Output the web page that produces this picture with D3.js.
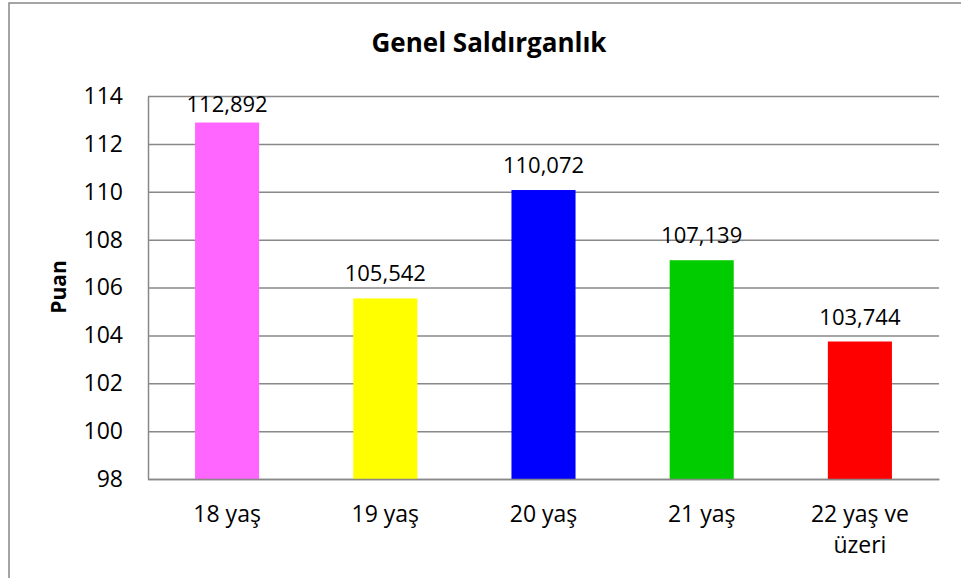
<!DOCTYPE html>
<html>
<head>
<meta charset="utf-8">
<script src="https://cdn.jsdelivr.net/npm/d3@7"></script>
<style>
  body { margin: 0; background: #fff; }
  text { font-family: "Open Sans", "Noto Sans", sans-serif; fill: #000; }
</style>
</head>
<body>
<svg id="chart" width="961" height="578"></svg>
<script>
var categories = ["18 yaş", "19 yaş", "20 yaş", "21 yaş", "22 yaş ve üzeri"],
    values = [112.892, 105.542, 110.072, 107.139, 103.744],
    colours = ["#ff66ff", "#ffff00", "#0000ff", "#00cc00", "#ff0000"],
    yTicks = [98, 100, 102, 104, 106, 108, 110, 112, 114];

var svg = d3.select("#chart"),
    plotLeft = 148, plotRight = 939, plotTop = 96, plotBottom = 479,
    fmt = function(v) { return d3.format(".3f")(v).replace(".", ","); };

//Outer frame (runs off the picture on the right and bottom)
svg.append("rect")
  .attr("x", 9).attr("y", 3)
  .attr("width", 980).attr("height", 600)
  .attr("fill", "none")
  .attr("stroke", "#888")
  .attr("stroke-width", 1.5);

//Scales
var x = d3.scaleBand()
          .domain(categories)
          .range([plotLeft, plotRight]);
var y = d3.scaleLinear()
          .domain([98, 114])
          .range([plotBottom, plotTop]);

//Y axis with gridlines
var yAxis = svg.append("g")
  .attr("transform", "translate(" + plotLeft + ",0)")
  .call(d3.axisLeft(y).tickValues(yTicks).tickSize(-(plotRight - plotLeft)).tickSizeOuter(0).tickPadding(25));
yAxis.select(".domain").attr("stroke", "#888").attr("stroke-width", 1.5);
yAxis.selectAll(".tick line").attr("stroke", "#888").attr("stroke-width", 1.5);
yAxis.selectAll(".tick text")
  .style("font-size", "23px")
  .style("font-family", "'Open Sans', sans-serif")
  .attr("fill", "#000");

//Bars
var barWidth = x.bandwidth() * 0.405;
svg.selectAll("rect.bar")
   .data(values)
   .enter()
   .append("rect")
   .attr("class", "bar")
   .attr("x", function(d, i) { return x(categories[i]) + x.bandwidth() / 2 - barWidth / 2; })
   .attr("y", function(d) { return y(d); })
   .attr("width", barWidth)
   .attr("height", function(d) { return plotBottom - y(d); })
   .attr("fill", function(d, i) { return colours[i]; });

//Value labels, kept inside the plot area
svg.selectAll("text.val")
   .data(values)
   .enter()
   .append("text")
   .attr("class", "val")
   .attr("x", function(d, i) { return x(categories[i]) + x.bandwidth() / 2; })
   .attr("y", function(d) { return Math.max(y(d) - 17, plotTop + 16); })
   .attr("text-anchor", "middle")
   .style("font-size", "22px")
   .text(fmt);

//X axis
var xAxis = svg.append("g")
  .attr("transform", "translate(0," + plotBottom + ")")
  .call(d3.axisBottom(x).tickSize(0).tickPadding(0));
xAxis.select(".domain").attr("stroke", "#888").attr("stroke-width", 1.5);
xAxis.selectAll(".tick text")
  .style("font-size", "23px")
  .style("font-family", "'Open Sans', sans-serif")
  .attr("fill", "#000")
  .each(function(d) {
    var t = d3.select(this), words = d.split(" "), lines = [], line = [];
    t.text(null);
    var tmp = t.append("tspan");
    words.forEach(function(w) {
      line.push(w);
      tmp.text(line.join(" "));
      if (tmp.node().getComputedTextLength() > x.bandwidth() * 0.75 && line.length > 1) {
        line.pop();
        lines.push(line.join(" "));
        line = [w];
      }
    });
    lines.push(line.join(" "));
    tmp.remove();
    t.attr("dy", null).attr("y", null);
    lines.forEach(function(l, i) {
      t.append("tspan").attr("x", 0).attr("y", 43 + i * 31).text(l);
    });
  });

//Y axis title
svg.append("text")
  .attr("transform", "translate(66,287) rotate(-90)")
  .attr("text-anchor", "middle")
  .style("font-size", "21px")
  .style("font-weight", "bold")
  .text("Puan");

//Chart title
svg.append("text")
  .attr("x", 489)
  .attr("y", 52)
  .attr("text-anchor", "middle")
  .style("font-size", "26px")
  .style("font-weight", "bold")
  .text("Genel Saldırganlık");
</script>
</body>
</html>
